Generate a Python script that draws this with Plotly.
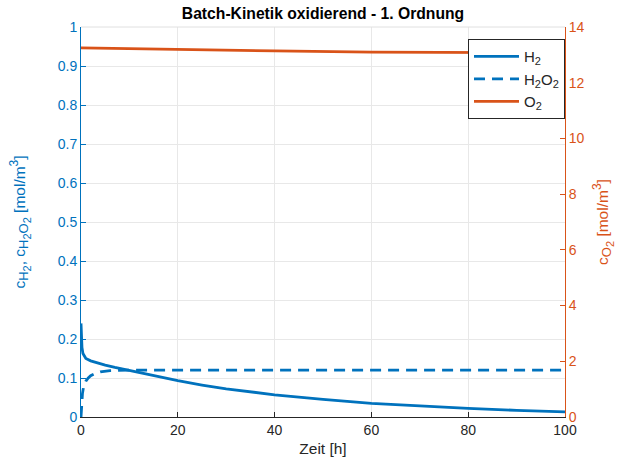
import plotly.graph_objects as go

t_h2 = [0, 0.1, 0.2, 0.4, 0.7, 1, 2, 3, 5, 7, 10, 15, 20, 25, 30, 40, 50, 60, 70, 80, 90, 100]
c_h2 = [0.24, 0.20, 0.178, 0.163, 0.155, 0.150, 0.144, 0.140, 0.133, 0.127, 0.119, 0.105,
        0.093, 0.082, 0.072, 0.057, 0.045, 0.035, 0.028, 0.022, 0.017, 0.013]

t_h2o2 = [0, 0.1, 0.3, 0.5, 1, 1.5, 2, 3, 4, 6, 8, 10, 100]
c_h2o2 = [0, 0.03, 0.06, 0.075, 0.092, 0.100, 0.106, 0.112, 0.116, 0.119, 0.120, 0.120, 0.120]

t_o2 = [0, 20, 40, 60, 80, 100]
c_o2 = [13.25, 13.19, 13.14, 13.10, 13.08, 13.07]

blue = "#0072BD"
orange = "#D95319"
dark = "#262626"
font = "Liberation Sans, Arial, sans-serif"


def sub(s, px):
    return "<sub><span style='font-size:%dpx'>%s</span></sub>" % (px, s)


left_title = ("c" + sub("H" + sub("2", 11), 13) + ", c" +
              sub("H" + sub("2", 11) + "O" + sub("2", 11), 13) +
              " [mol/m<sup><span style='font-size:12px'>3</span></sup>]")
right_title = ("c" + sub("O" + sub("2", 11), 13) +
               " [mol/m<sup><span style='font-size:12px'>3</span></sup>]")

fig = go.Figure()
fig.add_trace(go.Scatter(x=t_h2, y=c_h2, mode="lines", name="H" + sub("2", 11),
                         line=dict(color=blue, width=2.8)))
fig.add_trace(go.Scatter(x=t_h2o2, y=c_h2o2, mode="lines",
                         name="H" + sub("2", 11) + "O" + sub("2", 11),
                         line=dict(color=blue, width=2.8, dash="11px,7px")))
fig.add_trace(go.Scatter(x=t_o2, y=c_o2, mode="lines", name="O" + sub("2", 11), yaxis="y2",
                         line=dict(color=orange, width=2.8)))

fig.update_layout(
    width=642, height=467,
    margin=dict(l=81, r=77, t=27, b=50),
    paper_bgcolor="white", plot_bgcolor="white",
    font=dict(family=font, size=14, color=dark),
    title=dict(text="<b>Batch-Kinetik oxidierend - 1. Ordnung</b>", x=0.5, xref="paper",
               y=1 - 14 / 467, yanchor="middle", font=dict(size=15.7, color="#000000")),
    showlegend=True,
    legend=dict(x=1, xanchor="right", y=0.969, yanchor="top", xref="paper", yref="paper",
                bgcolor="white", bordercolor=dark, borderwidth=1, itemwidth=45,
                font=dict(size=15, color=dark), tracegroupgap=0),
    xaxis=dict(range=[0, 100], dtick=20, showgrid=True, gridcolor="#e8e8e8",
               showline=True, linecolor=dark, linewidth=1, ticks="inside", ticklen=5,
               tickcolor=dark, zeroline=False, mirror=False,
               title=dict(text="Zeit [h]", standoff=6, font=dict(size=15.5, color=dark)),
               tickfont=dict(size=14, color=dark)),
    yaxis=dict(range=[0, 1], dtick=0.1, showgrid=True, gridcolor="#e8e8e8",
               showline=True, linecolor=blue, linewidth=1, ticks="inside", ticklen=5,
               tickcolor=blue, zeroline=False, tickformat="~g",
               tickfont=dict(size=14, color=blue),
               title=dict(text=left_title, font=dict(size=15.5, color=blue), standoff=28)),
    yaxis2=dict(range=[0, 14], dtick=2, overlaying="y", side="right", showgrid=False,
                showline=True, linecolor=orange, linewidth=1, ticks="inside", ticklen=5,
                tickcolor=orange, zeroline=False,
                tickfont=dict(size=14, color=orange),
                title=dict(text=right_title, font=dict(size=15.5, color=orange), standoff=13)),
)
fig.add_shape(type="line", xref="paper", yref="paper", x0=0, x1=1, y0=1, y1=1,
              line=dict(color="#e0e0e0", width=1))

fig.write_html("out.html")
